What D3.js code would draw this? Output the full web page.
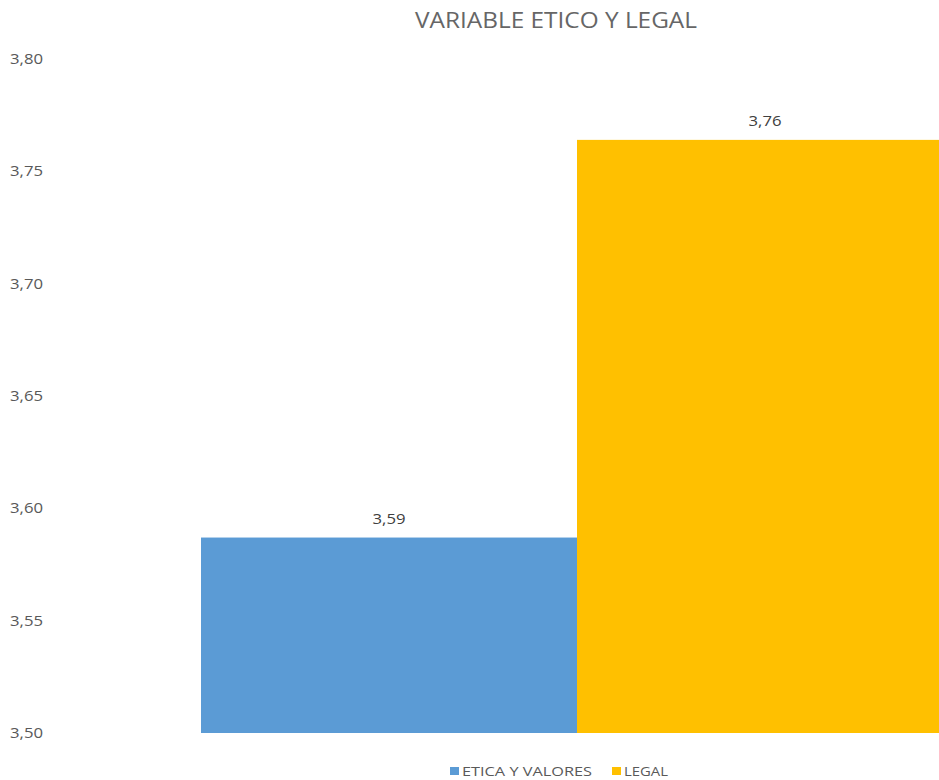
<!DOCTYPE html>
<html>
<head>
<meta charset="utf-8">
<script src="https://cdn.jsdelivr.net/npm/d3@7"></script>
<style>
  html, body { margin: 0; padding: 0; background: #fff; }
  svg { display: block; }
  text { font-family: "Open Sans", "Liberation Sans", sans-serif; }
</style>
</head>
<body>
<div id="chart"></div>
<script>
// Series shown in the chart
const seriesNames = ["ETICA Y VALORES", "LEGAL"];
const seriesValues = [3.587, 3.764];
const seriesColors = ["#5B9BD5", "#FFC000"];
const yTicks = [3.50, 3.55, 3.60, 3.65, 3.70, 3.75, 3.80];
const chartTitle = "VARIABLE ETICO Y LEGAL";

const width = 939, height = 780;
const fmt = v => d3.format(".2f")(v).replace(".", ",");

const svg = d3.select("#chart").append("svg")
  .attr("width", width).attr("height", height);

// Plot area: the bar group runs past the right edge of the canvas
const plotLeft = 201, plotRight = 953;
const plotTop = 59, plotBottom = 733;

const y = d3.scaleLinear().domain([3.50, 3.80]).range([plotBottom, plotTop]);
const x = d3.scaleBand().domain(seriesNames).range([plotLeft, plotRight]).padding(0);

// Title
svg.append("text")
  .attr("x", 556).attr("y", 28)
  .attr("text-anchor", "middle")
  .attr("font-size", 21)
  .attr("fill", "#666666")
  .attr("textLength", 282)
  .attr("lengthAdjust", "spacingAndGlyphs")
  .text(chartTitle);

// Y axis labels (no axis line, no ticks)
const yAxis = d3.axisLeft(y).tickValues(yTicks).tickFormat(fmt).tickSize(0).tickPadding(0);
const yg = svg.append("g").attr("transform", "translate(10,0)").call(yAxis);
yg.select(".domain").remove();
yg.selectAll("text")
  .attr("text-anchor", "start")
  .attr("font-size", 14)
  .attr("fill", "#595959")
  .attr("textLength", 33)
  .attr("lengthAdjust", "spacingAndGlyphs")
  .style("font-family", "'Open Sans', 'Liberation Sans', sans-serif");

// Bars
const data = seriesNames.map((n, i) => ({ name: n, value: seriesValues[i], color: seriesColors[i] }));

svg.append("g").selectAll("rect").data(data).join("rect")
  .attr("x", d => x(d.name))
  .attr("width", x.bandwidth())
  .attr("y", d => y(d.value))
  .attr("height", d => y(3.50) - y(d.value))
  .attr("fill", d => d.color);

// Value labels
svg.append("g").selectAll("text").data(data).join("text")
  .attr("x", d => x(d.name) + x.bandwidth() / 2)
  .attr("y", d => y(d.value) - 14)
  .attr("text-anchor", "middle")
  .attr("font-size", 14)
  .attr("fill", "#404040")
  .attr("textLength", 33)
  .attr("lengthAdjust", "spacingAndGlyphs")
  .text(d => fmt(d.value));

// Legend
const legendItems = [
  { name: seriesNames[0], color: seriesColors[0], x: 450, len: 130 },
  { name: seriesNames[1], color: seriesColors[1], x: 612, len: 44 }
];
const lg = svg.append("g");
legendItems.forEach(it => {
  lg.append("rect")
    .attr("x", it.x).attr("y", 767)
    .attr("width", 9).attr("height", 8)
    .attr("fill", it.color);
  lg.append("text")
    .attr("x", it.x + 12).attr("y", 776)
    .attr("font-size", 13)
    .attr("fill", "#595959")
    .attr("textLength", it.len)
    .attr("lengthAdjust", "spacingAndGlyphs")
    .text(it.name);
});
</script>
</body>
</html>
